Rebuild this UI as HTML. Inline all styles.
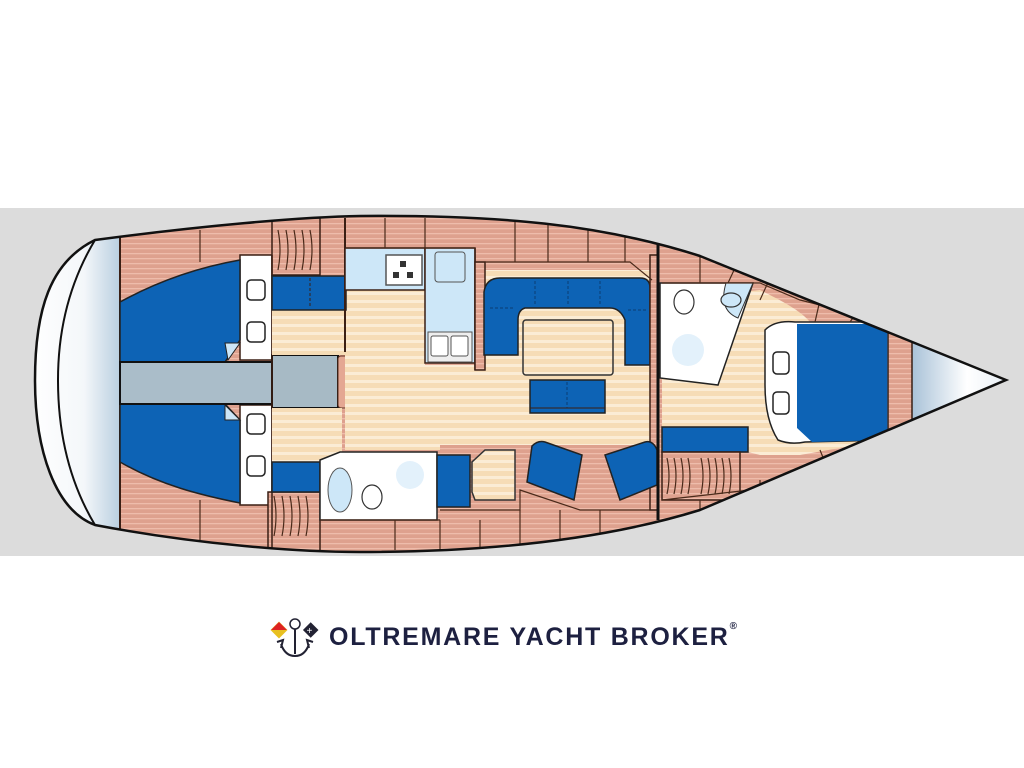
<!DOCTYPE html>
<html><head><meta charset="utf-8"><style>
html,body{margin:0;padding:0;background:#fff;width:1024px;height:768px;overflow:hidden}
.logo{position:absolute;left:329px;top:623px;font:bold 25px "Liberation Sans",sans-serif;color:#1d2040;letter-spacing:1.75px;white-space:nowrap}
.logo sup{font-size:10px;vertical-align:top;position:relative;top:-2px;letter-spacing:0}
</style></head><body>
<svg width="1024" height="768" style="position:absolute;left:0;top:0">
<defs>
<pattern id="wood" width="6" height="5" patternUnits="userSpaceOnUse"><rect width="6" height="5" fill="#dea18e"/><rect y="3" width="6" height="1.3" fill="#eebcab"/></pattern>
<pattern id="floor" width="6" height="8" patternUnits="userSpaceOnUse"><rect width="6" height="8" fill="#f6dcb6"/><rect y="4" width="6" height="3" fill="#fbecd5"/></pattern>
<linearGradient id="stern" x1="0" x2="1"><stop offset="0" stop-color="#fff"/><stop offset="0.6" stop-color="#f4f7fa"/><stop offset="1" stop-color="#b9cfe0"/></linearGradient>
<linearGradient id="bow" x1="0" x2="1"><stop offset="0" stop-color="#a9c2d8"/><stop offset="0.5" stop-color="#fff"/><stop offset="1" stop-color="#dfe9f2"/></linearGradient>
<clipPath id="hull"><path d="M95,240 C200,226 300,217 360,216 C500,215 600,224 700,256 L1006,380 L700,510 C600,541 480,552 360,552 C300,552 200,545 95,525 C55,510 35,450 35,380 C35,310 50,262 95,240 Z"/></clipPath>
</defs>
<rect x="0" y="208" width="1024" height="348" fill="#dcdcdc"/>
<g clip-path="url(#hull)" stroke="#3a1f14" stroke-width="1.5">
<rect x="0" y="200" width="1024" height="360" fill="url(#wood)" stroke="none"/>
<rect x="30" y="200" width="90" height="360" fill="url(#stern)" stroke="none"/>
<path d="M95,240 C65,290 58,340 58,380 C58,430 68,480 95,525" fill="none" stroke="#111" stroke-width="2"/>
<line x1="120" y1="230" x2="120" y2="535" stroke-width="2"/>
<rect x="240" y="255" width="32" height="105" fill="#fff"/>
<rect x="240" y="405" width="32" height="100" fill="#fff"/>
<path d="M120,302 C160,280 200,267 240,260 L240,340 L225,362 L120,362 Z" fill="#0d63b5" stroke="#222"/>
<path d="M120,404 L225,404 L240,420 L240,503 C200,495 160,485 120,462 Z" fill="#0d63b5" stroke="#222"/>
<path d="M225,343 L240,343 L228,360 Z" fill="#cce6f7" stroke="#222" stroke-width="1"/>
<path d="M225,405 L240,420 L225,420 Z" fill="#cce6f7" stroke="#222" stroke-width="1"/>
<g fill="#fff" stroke="#222" stroke-width="1.5">
<rect x="247" y="280" width="18" height="20" rx="4"/><rect x="247" y="322" width="18" height="20" rx="4"/>
<rect x="247" y="414" width="18" height="20" rx="4"/><rect x="247" y="456" width="18" height="20" rx="4"/>
</g>
<rect x="120" y="362" width="152" height="42" fill="#aabdc9" stroke="#111" stroke-width="2"/>
<rect x="272" y="355" width="66" height="53" fill="#a7bac5" stroke="#111" stroke-width="2"/>
<g fill="#e4a793" stroke="#5a3020" stroke-width="1"><rect x="338" y="356" width="10" height="52" rx="3"/><rect x="346" y="356" width="8" height="52" rx="3"/><rect x="352" y="356" width="8" height="52" rx="3"/></g>
<rect x="272" y="218" width="48" height="57" fill="url(#wood)"/>
<rect x="268" y="492" width="52" height="60" fill="url(#wood)"/>
<g fill="none" stroke="#4a2a1a" stroke-width="1.2">
<path d="M278,230 q4,20 0,40 M286,230 q4,20 0,40 M294,230 q4,20 0,40 M302,230 q4,20 0,40 M310,230 q4,20 0,40"/>
<path d="M274,496 q4,20 0,40 M282,496 q4,20 0,40 M290,496 q4,20 0,40 M298,496 q4,20 0,40 M306,496 q4,20 0,40"/>
</g>
<line x1="272" y1="255" x2="272" y2="548"/>
<rect x="272" y="310" width="74" height="45" fill="url(#floor)" stroke="none"/>
<rect x="272" y="408" width="70" height="55" fill="url(#floor)" stroke="none"/>
<path d="M345,290 L425,290 L425,365 L475,365 L475,290 L485,290 L485,355 L655,355 L655,445 L440,445 L440,450 L345,450 Z" fill="url(#floor)" stroke="none"/>
<rect x="484" y="270" width="170" height="100" fill="url(#floor)" stroke="none"/>
<rect x="272" y="276" width="74" height="34" fill="#0d63b5" stroke="#222"/>
<line x1="310" y1="278" x2="310" y2="308" stroke-dasharray="3,2" stroke-width="1"/>
<rect x="272" y="462" width="48" height="30" fill="#0d63b5" stroke="#222"/>
<line x1="345" y1="218" x2="345" y2="352" stroke-width="2"/>
<rect x="345" y="248" width="80" height="42" fill="#cde7f8"/>
<rect x="425" y="248" width="50" height="115" fill="#cde7f8"/>
<rect x="386" y="255" width="36" height="30" fill="#fff" stroke="#555" stroke-width="1.5"/>
<g fill="#333" stroke="none"><rect x="400" y="261" width="6" height="6"/><rect x="393" y="272" width="6" height="6"/><rect x="407" y="272" width="6" height="6"/></g>
<rect x="435" y="252" width="30" height="30" rx="3" fill="#cde7f8" stroke="#555" stroke-width="1"/>
<rect x="428" y="332" width="44" height="30" fill="#eee" stroke="#555" stroke-width="1"/>
<rect x="431" y="336" width="17" height="20" rx="2" fill="#fff" stroke="#555" stroke-width="1"/><rect x="451" y="336" width="17" height="20" rx="2" fill="#fff" stroke="#555" stroke-width="1"/>
<line x1="475" y1="248" x2="475" y2="370" stroke-width="1.5"/>
<rect x="475" y="262" width="10" height="108" fill="url(#wood)"/>
<path d="M500,278 L640,278 Q650,278 650,288 L650,365 L625,365 L625,320 Q620,308 610,308 L525,308 Q518,310 518,320 L518,355 L484,355 L484,292 Q486,278 500,278 Z" fill="#0d63b5" stroke="#222"/>
<path d="M490,308 H515 M535,281 V305 M568,281 V305 M600,281 V305 M628,310 H648" stroke="#0a3e73" stroke-dasharray="3,2" stroke-width="1"/>
<rect x="523" y="320" width="90" height="55" rx="3" fill="url(#floor)" stroke="#333" stroke-width="1.5"/>
<rect x="530" y="380" width="75" height="33" fill="#0d63b5" stroke="#222"/>
<line x1="567" y1="382" x2="567" y2="408" stroke="#0a3e73" stroke-dasharray="3,2" stroke-width="1"/>
<line x1="530" y1="408" x2="605" y2="408" stroke-width="1"/>
<rect x="650" y="255" width="8" height="255" fill="url(#wood)"/>
<path d="M320,460 L340,452 L437,452 L437,520 L320,520 Z" fill="#fff" stroke="#222"/>
<circle cx="410" cy="475" r="14" fill="#e3f1fb" stroke="none"/>
<ellipse cx="340" cy="490" rx="12" ry="22" fill="#cde7f8" stroke="#555" stroke-width="1"/>
<ellipse cx="372" cy="497" rx="10" ry="12" fill="#fff" stroke="#333" stroke-width="1.2"/>
<rect x="437" y="455" width="33" height="52" fill="#0d63b5" stroke="#222"/>
<path d="M485,450 L515,450 L515,500 L475,500 L472,492 L472,462 Z" fill="url(#floor)" stroke="#333"/>
<path d="M532,446 Q538,440 545,442 L582,455 L574,500 L527,482 Z" fill="#0d63b5" stroke="#222"/>
<path d="M605,455 L645,442 Q653,440 657,450 L657,485 L620,500 Z" fill="#0d63b5" stroke="#222"/>
<line x1="658" y1="240" x2="658" y2="520" stroke="#111" stroke-width="3"/>
<path d="M662,300 L760,290 C780,300 800,310 810,322 L885,322 L885,440 L800,455 L760,455 L740,450 L662,450 Z" fill="url(#floor)" stroke="none"/>
<path d="M660,283 L753,283 L718,385 L660,378 Z" fill="#fff" stroke="#222"/>
<path d="M726,283 L753,283 L738,318 Q718,310 726,283 Z" fill="#cde7f8" stroke="#333" stroke-width="1"/>
<ellipse cx="731" cy="300" rx="10" ry="7" fill="#cde7f8" stroke="#333" stroke-width="1.2"/>
<ellipse cx="684" cy="302" rx="10" ry="12" fill="#fff" stroke="#333" stroke-width="1.2"/>
<circle cx="688" cy="350" r="16" fill="#e3f1fb" stroke="none"/>
<path d="M765,330 Q775,320 795,322 L888,322 L888,440 L805,442 Q790,445 778,440 Q765,420 765,385 Z" fill="#fff" stroke="#222"/>
<path d="M797,324 L888,324 L888,440 L812,442 L797,428 Z" fill="#0d63b5" stroke="none"/>
<g fill="#fff" stroke="#222" stroke-width="1.5"><rect x="773" y="352" width="16" height="22" rx="4"/><rect x="773" y="392" width="16" height="22" rx="4"/></g>
<rect x="662" y="427" width="86" height="25" fill="#0d63b5" stroke="#222"/>
<rect x="662" y="452" width="78" height="48" fill="url(#wood)"/>
<g fill="none" stroke="#4a2a1a" stroke-width="1.2"><path d="M667,458 q4,18 0,36 M674,458 q4,18 0,36 M681,458 q4,18 0,36 M688,458 q4,18 0,36 M701,458 q4,18 0,36 M708,458 q4,18 0,36 M715,458 q4,18 0,36 M722,458 q4,18 0,36 M729,458 q4,18 0,36"/></g>
<rect x="912" y="300" width="110" height="160" fill="url(#bow)" stroke="none"/>
<line x1="912" y1="330" x2="912" y2="430" stroke-width="1.5"/>
<g fill="none" stroke="#4a2a1a" stroke-width="1.2">
<path d="M346,248 H475 M485,262 H630 L652,280 M662,283 L760,283 L800,300 L888,322 L912,330"/>
<path d="M320,520 H440 M440,510 H520 V490 L580,510 H650 M662,500 L750,490 L800,470 L888,440 L912,430"/>
<path d="M200,230 V262 M200,500 V540 M385,218 V248 M425,218 V248 M515,222 V262 M548,225 V262 M588,228 V262 M625,232 V262 M700,255 V283 M735,268 L728,283 M770,278 L760,300 M820,300 L815,322 M855,315 L850,322 M888,322 V440 M395,520 V550 M440,520 V550 M480,520 V548 M520,510 V548 M560,510 V545 M600,510 V540 M700,500 V515 M760,480 V500 M820,450 L828,470"/>
</g>
</g>
<path d="M95,240 C200,226 300,217 360,216 C500,215 600,224 700,256 L1006,380 L700,510 C600,541 480,552 360,552 C300,552 200,545 95,525 C55,510 35,450 35,380 C35,310 50,262 95,240 Z" fill="none" stroke="#111" stroke-width="2.5"/>
<g transform="translate(273,618)">
<rect x="0" y="6" width="12" height="12" fill="#e8c020" transform="rotate(45 6 12)"/>
<path d="M-2,12 L6,4 L14,12 Z" fill="#d22" />
<rect x="32" y="6" width="11" height="11" fill="#223" transform="rotate(45 37 12)"/>
<text x="33.5" y="16" font-size="10" fill="#fff" font-family="Liberation Sans">+</text>
<circle cx="22" cy="6" r="5" fill="none" stroke="#223" stroke-width="1.5"/>
<path d="M22,11 V36 M8,26 Q12,38 22,38 Q32,38 36,26 M4,24 L10,22 L8,30 M40,24 L34,22 L36,30" fill="none" stroke="#223" stroke-width="2"/>
</g>
</svg>
<div class="logo">OLTREMARE YACHT BROKER<sup>®</sup></div>
</body></html>
